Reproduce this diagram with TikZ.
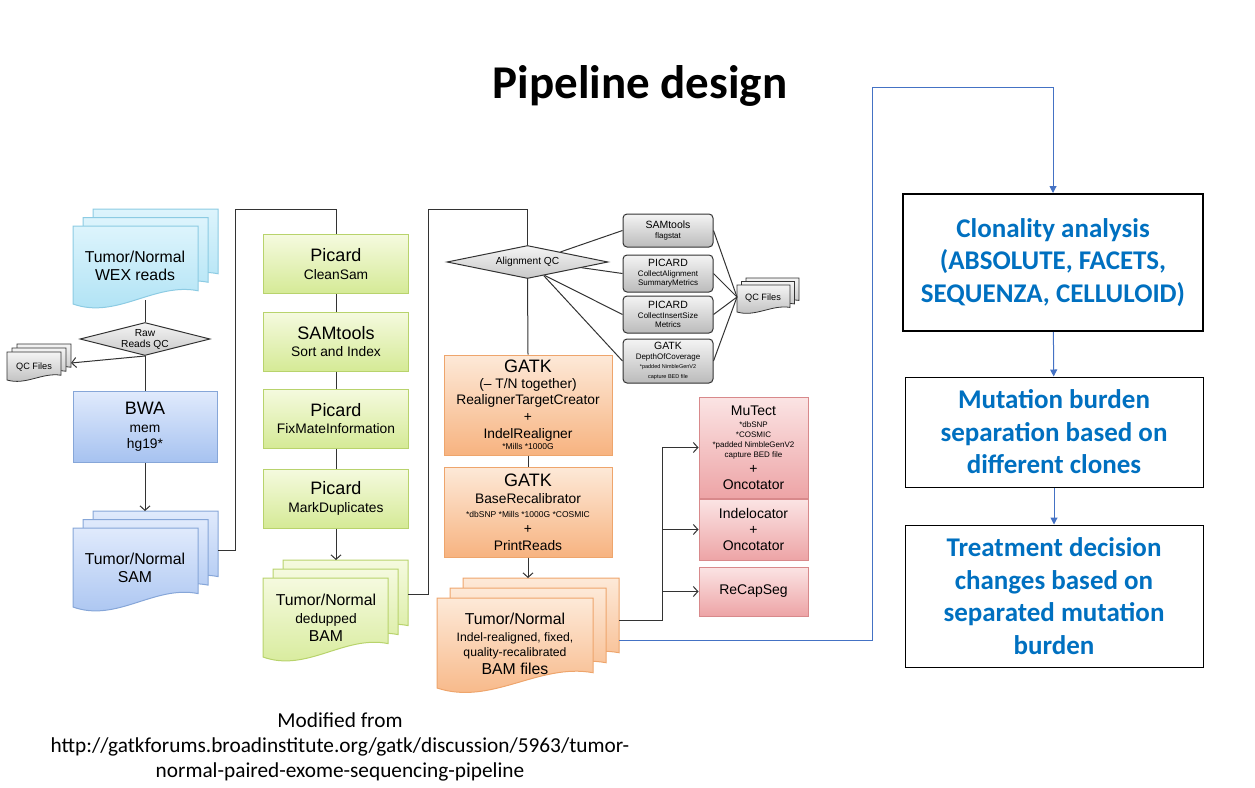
\documentclass[tikz,border=0pt]{standalone}
\usepackage{fontspec}
\setmainfont{Carlito}
\newfontfamily\helv{Liberation Sans}
\usetikzlibrary{arrows.meta,shapes.geometric,calc}

\definecolor{slideblue}{HTML}{0070C0}
\definecolor{linkblue}{HTML}{4472C4}
\definecolor{darkline}{HTML}{333333}
\definecolor{wextop}{HTML}{DDF4FC}
\definecolor{wexbot}{HTML}{ABE1F4}
\definecolor{wexline}{HTML}{8CCBE3}
\definecolor{bwatop}{HTML}{E0EAFC}
\definecolor{bwabot}{HTML}{A6C2F0}
\definecolor{bwaline}{HTML}{86A6D8}
\definecolor{greentop}{HTML}{F5FADF}
\definecolor{greenbot}{HTML}{D5EA96}
\definecolor{greenline}{HTML}{B8D36C}
\definecolor{orangetop}{HTML}{FDE9D8}
\definecolor{orangebot}{HTML}{F7B380}
\definecolor{orangeline}{HTML}{EEA56C}
\definecolor{redtop}{HTML}{FBE4E4}
\definecolor{redbot}{HTML}{EDA4A6}
\definecolor{redline}{HTML}{D8898B}
\definecolor{graytop}{HTML}{F4F4F4}
\definecolor{graybot}{HTML}{BBBBBB}

\newcommand\setfs[2]{\fontsize{#1}{#2}\selectfont}
\newcommand\bigt{\setfs{18}{20}}
\newcommand\tnt{\setfs{15.8}{18}}
\newcommand\midt{\setfs{13.8}{16.5}}
\newcommand\smallt{\setfs{8.5}{10}}
\newcommand\redt{\setfs{8}{9.5}}
\newcommand\grayt{\setfs{10.5}{12}}
\newcommand\tinyt{\setfs{5.5}{7}}

%% one paper sheet with a wavy lower edge: x, y (top left), width, height, style
\newcommand\papersheet[5]{%
  \draw[#5] (#1,#2) -- (#1+#3,#2) -- (#1+#3,#2+0.83*#4)
    .. controls (#1+0.65*#3,#2+0.72*#4) and (#1+0.35*#3,#2+1.2*#4) .. (#1,#2+#4) -- cycle;}
%% three sheets, back to front: x, y, width, height, dx, dy, style
\newcommand\paperstack[7]{%
  \foreach \k in {2,1,0}
  {
  \papersheet{#1+\k*#5}{#2-\k*#6}{#3}{#4}{#7}
  }}

\begin{document}
\begin{tikzpicture}[x=1pt, y=-1pt, line width=1pt,
    >={Straight Barb[length=4.5pt,width=10pt]},
    every node/.style={inner sep=0pt},
    wexsheet/.style={draw=wexline, top color=wextop, bottom color=wexbot},
    samsheet/.style={draw=bwaline, top color=bwatop, bottom color=bwabot},
    dedupsheet/.style={draw=greenline, top color=greentop, bottom color=greenbot},
    bamsheet/.style={draw=orangeline, top color=orangetop, bottom color=orangebot},
    qcsheet/.style={draw=darkline, line width=0.8pt, top color=graytop, bottom color=graybot},
    stacktext/.style={align=center, font=\helv\tnt},
    bluebox/.style={draw=bwaline, top color=bwatop, bottom color=bwabot,
        minimum width=144pt, minimum height=71pt, align=center, font=\helv\midt},
    greenbox/.style={draw=greenline, top color=greentop, bottom color=greenbot,
        minimum width=145pt, minimum height=59pt, align=center, font=\helv\midt},
    orangebox/.style={draw=orangeline, top color=orangetop, bottom color=orangebot,
        minimum width=168pt, align=center, font=\helv\midt},
    redbox/.style={draw=redline, top color=redtop, bottom color=redbot,
        minimum width=109pt, align=center, font=\helv\setfs{14}{16}},
    graybox/.style={draw=darkline, rounded corners=4pt, top color=graytop, bottom color=graybot,
        minimum width=90pt, align=center, font=\helv\setfs{8}{9.5}},
    qcdiamond/.style={diamond, draw=darkline, top color=graytop, bottom color=graybot!80,
        align=center, font=\helv\setfs{10.2}{11}},
    slidebox/.style={draw=black, minimum width=298pt, align=center, text=slideblue,
        font=\bfseries\setfs{27}{32.5}},
    linkline/.style={draw=linkblue, line width=1pt, -{Triangle[length=7pt,width=7pt]}}]

    %% Background
    \useasboundingbox (0,0) rectangle (1255,787);

    \node[font=\bfseries\setfs{47}{56}, anchor=base] (title) at (640,98) {Pipeline design};

    %% reads, qc and alignment
    \paperstack{73}{226}{125}{78}{10}{8.5}{wexsheet}
    \node[stacktext] (wex) at (135,266) {Tumor/Normal\\WEX reads};
    \coordinate (wexout) at (145,300);

    \node[qcdiamond, shape aspect=3.9, minimum width=130pt, minimum height=33pt] (rawqc) at (145,339) {Raw\\Reads QC};

    \paperstack{7}{352}{54}{28}{5}{4}{qcsheet}
    \node[font=\helv\setfs{9.2}{10}] (qcleft) at (34,367) {QC Files};
    \coordinate (qcleftin) at (71,363);

    \node[bluebox] (bwa) at (145,427) {{\bigt BWA}\\[1pt]mem\\hg19*};

    \paperstack{73}{528}{125}{79}{10}{8.5}{samsheet}
    \node[stacktext] (sam) at (135,568) {Tumor/Normal\\SAM};
    \coordinate (samin) at (145,511);
    \coordinate (samout) at (218,550);

    %% cleaning
    \node[greenbox] (clean) at (336,264) {{\bigt Picard}\\[1pt]CleanSam};
    \node[greenbox] (sort) at (336,341.5) {{\bigt SAMtools}\\[1pt]Sort and Index};
    \node[greenbox] (fixmate) at (336,418.5) {{\bigt Picard}\\[1pt]FixMateInformation};
    \node[greenbox] (markdup) at (336,498.5) {{\bigt Picard}\\[1pt]MarkDuplicates};

    \paperstack{263}{578}{125}{79}{10}{9}{dedupsheet}
    \node[stacktext] (dedup) at (326,618) {Tumor/Normal\\{\midt dedupped}\\BAM};
    \coordinate (dedupin) at (336,560);
    \coordinate (dedupout) at (408,594);

    %% alignment qc
    \node[qcdiamond, shape aspect=4.9, minimum width=161pt, minimum height=33pt] (alignqc) at (527.5,262) {Alignment QC};

    \node[graybox, minimum height=33pt] (flagstat) at (668,230.5) {{\grayt SAMtools}\\flagstat};
    \node[graybox, minimum height=37pt] (summary) at (668,273.5) {{\grayt PICARD}\\CollectAlignment\\SummaryMetrics};
    \node[graybox, minimum height=37pt] (insert) at (668,314.5) {{\grayt PICARD}\\CollectInsertSize\\Metrics};
    \node[graybox, minimum height=44pt] (depth) at (668,361) {{\grayt GATK}\\DepthOfCoverage\\{\tinyt *padded NimbleGenV2}\\{\tinyt capture BED file}};

    \paperstack{737}{285}{53}{27}{4.5}{3.5}{qcsheet}
    \node[font=\helv\setfs{9.2}{10}] (qcright) at (763,298) {QC Files};
    \coordinate (qcrightin) at (737,297);

    %% realignment and recalibration
    \node[orangebox, minimum height=100pt] (realign) at (528,405) {{\bigt GATK}\\(– T/N together)\\[-1pt]RealignerTargetCreator\\[1pt]+\\IndelRealigner\\[-5pt]{\smallt *Mills *1000G}};
    \node[orangebox, minimum height=90pt] (recal) at (528,512) {{\bigt GATK}\\[1pt]BaseRecalibrator\\[-3pt]{\smallt *dbSNP *Mills *1000G *COSMIC}\\+\\PrintReads};

    \paperstack{437}{598}{156}{90}{13}{10}{bamsheet}
    \node[stacktext] (bam) at (515,644) {Tumor/Normal\\[-1pt]{\setfs{12.2}{15}Indel-realigned, fixed,}\\[-3pt]{\setfs{12.2}{15}quality-recalibrated}\\BAM files};
    \coordinate (bamin) at (528,578);
    \coordinate (bamout) at (619,620);
    \coordinate (bamlink) at (619,640);

    %% callers
    \node[redbox, minimum height=101pt] (mutect) at (753.5,447.5) {MuTect\\[-4pt]{\redt *dbSNP}\\[-6pt]{\redt *COSMIC}\\[-6pt]{\redt *padded NimbleGenV2}\\[-6pt]{\redt capture BED file}\\+\\Oncotator};
    \node[redbox, minimum height=61pt] (indel) at (753.5,529.5) {Indelocator\\+\\Oncotator};
    \node[redbox, minimum height=49pt] (recap) at (753.5,591.5) {ReCapSeg};
    \coordinate (split) at (662,620);

    %% downstream analysis
    \node[slidebox, line width=2pt, minimum width=300pt, minimum height=137pt] (clon) at (1053,262.5) {Clonality analysis\\(ABSOLUTE, FACETS,\\SEQUENZA, CELLULOID)};
    \node[slidebox, minimum height=110pt] (burden) at (1054,432) {Mutation burden\\separation based on\\different clones};
    \node[slidebox, minimum height=142pt] (treat) at (1054,596) {Treatment decision\\changes based on\\separated mutation\\burden};

    \node[align=center, font=\setfs{21.3}{25}] (source) at (340,747) {Modified from\\http://gatkforums.broadinstitute.org/gatk/discussion/5963/tumor-\\normal-paired-exome-sequencing-pipeline};

    %% connectors
    \draw[darkline] (wexout) -- (rawqc.north);
    \draw[darkline] (rawqc.south) -- (bwa.north);
    \draw[darkline, ->] (rawqc.south) -- (qcleftin);
    \draw[darkline, ->] (bwa.south) -- (samin);
    \draw[darkline] (samout) -- (235,550) -- (235,209) -| (clean.north);
    \draw[darkline] (clean) -- (sort) -- (fixmate) -- (markdup);
    \draw[darkline, ->] (markdup.south) -- (dedupin);
    \draw[darkline] (dedupout) -- (428,594) -- (428,209) -| (alignqc.north);
    \draw[darkline] (alignqc.south) -- (realign.north);
    \draw[darkline] (realign) -- (recal);
    \draw[darkline, ->] (recal.south) -- (bamin);

    \draw[darkline] (alignqc.17) -- (flagstat.west);
    \draw[darkline] (alignqc.-6) -- (summary.west);
    \draw[darkline] (alignqc.-38) -- (insert.west);
    \draw[darkline] (alignqc.-40) -- (depth.west);
    \foreach \q in {flagstat,summary,insert,depth}
    {
    \draw[darkline] (\q.east) -- (qcrightin);
    }

    \draw[darkline, ->] (bamout) -- (split) |- (mutect.west);
    \draw[darkline, ->] (split) |- (indel.west);
    \draw[darkline, ->] (split) |- (recap.west);

    \draw[linkline] (bamlink) -- (872,640) -- (872,87) -| (clon.north);
    \draw[linkline] (clon) -- (burden);
    \draw[linkline] (burden) -- (treat);

\end{tikzpicture}
\end{document}
